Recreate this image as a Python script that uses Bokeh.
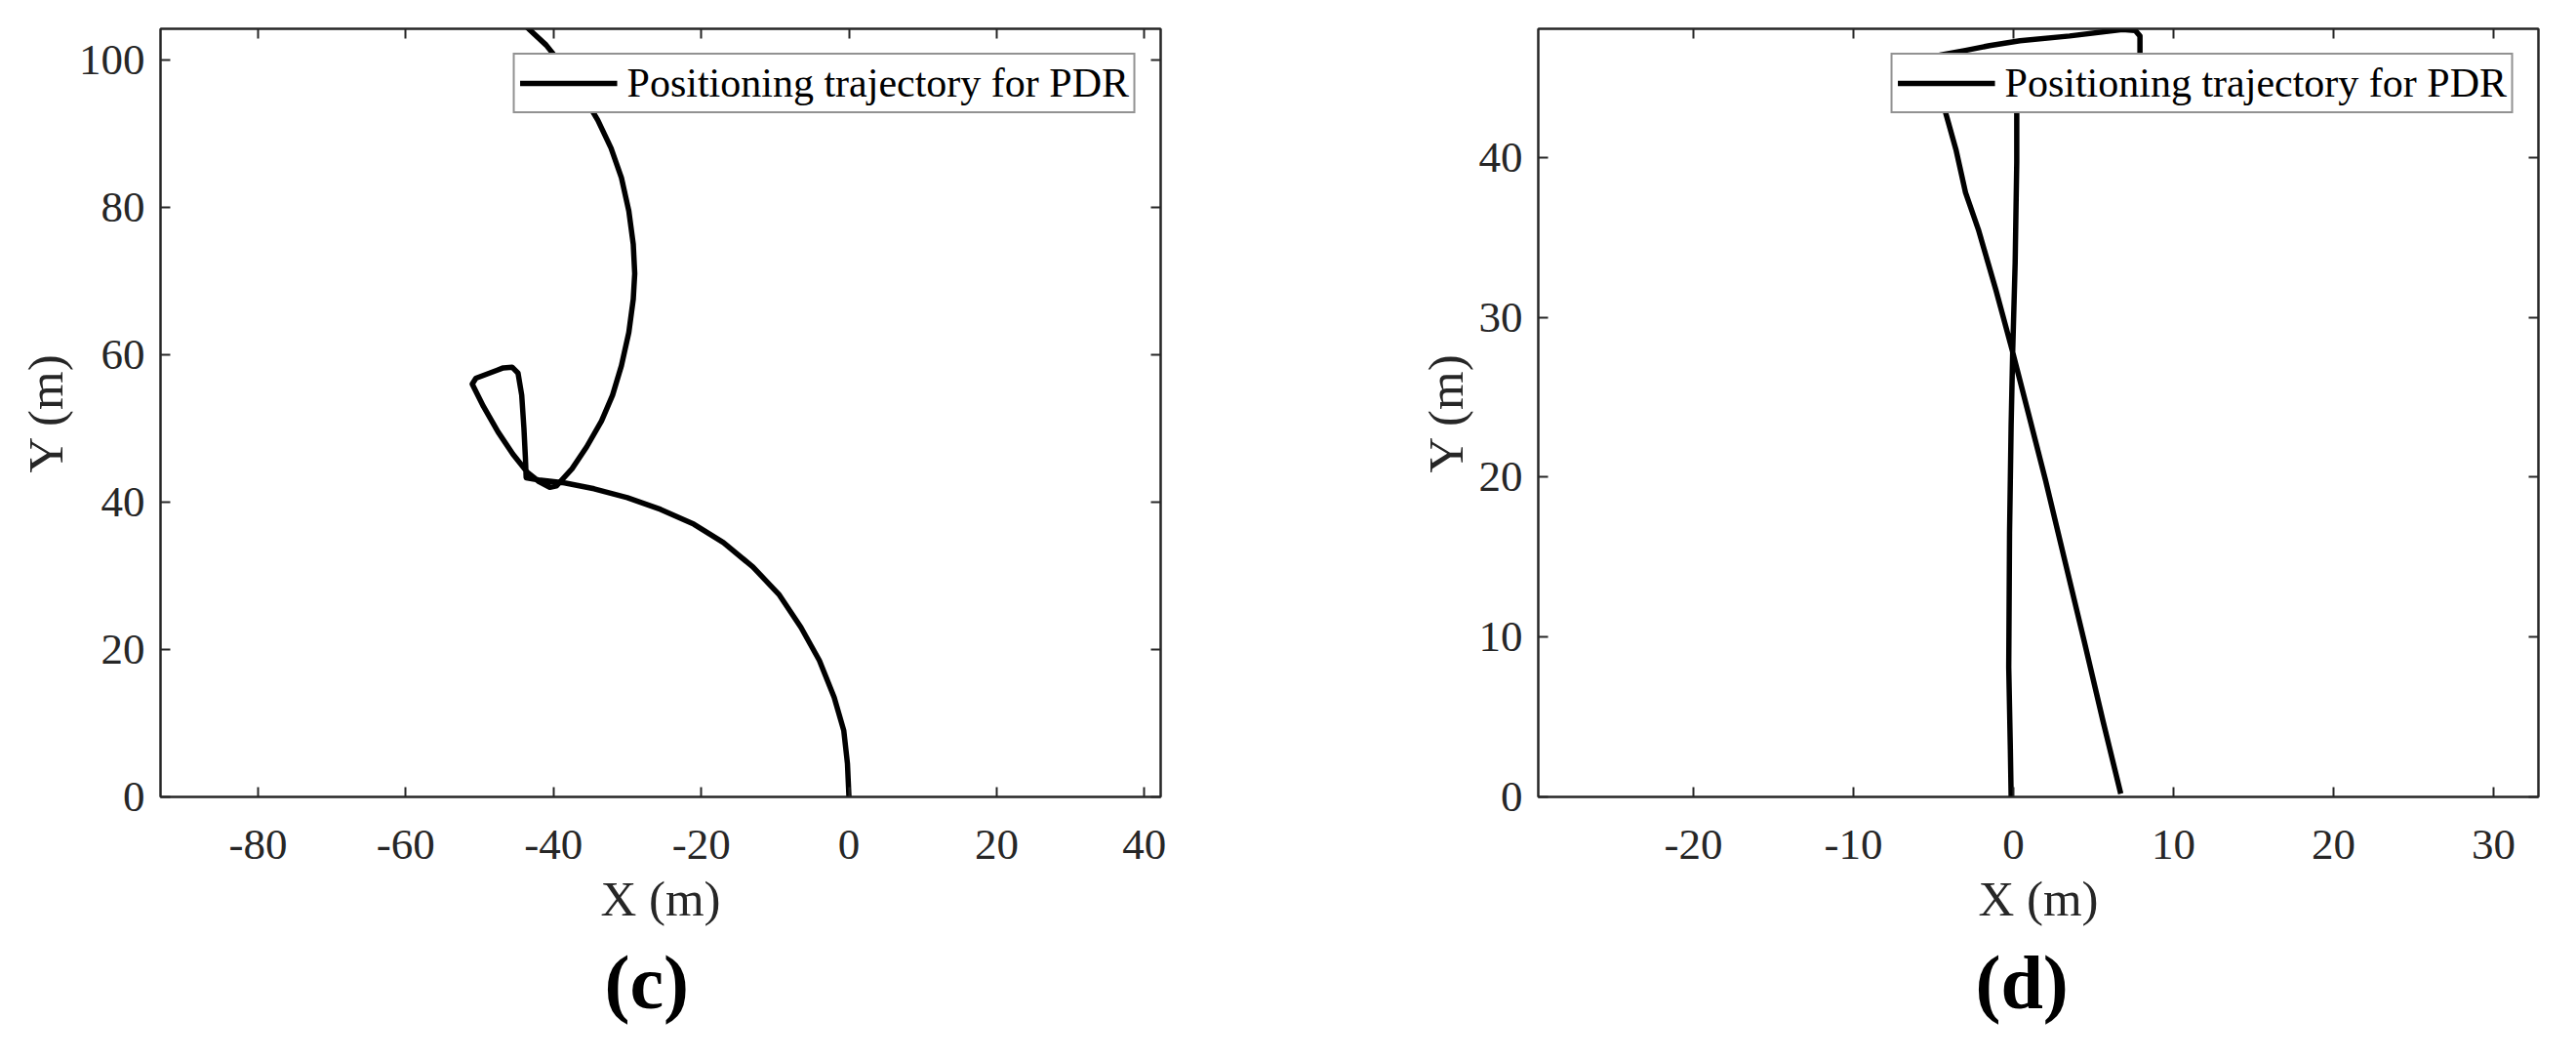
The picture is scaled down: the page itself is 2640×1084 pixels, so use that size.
from bokeh.plotting import figure
from bokeh.layouts import row
from bokeh.models import Range1d, FixedTicker, LinearAxis, Title
from bokeh.embed import file_html
from bokeh.resources import INLINE

# ---------------- data ----------------
legend_text = "Positioning trajectory for PDR"

# panel (c)
x_c = [0.0, -0.2, -0.7, -2.0, -4.0, -6.5, -9.5, -13.0, -17.0, -21.0, -25.5, -30.0,
       -34.5, -38.5, -42.0, -43.7,
       -43.8, -44.0, -44.3, -44.8, -45.6, -46.8, -50.5, -51.0, -49.5, -47.5,
       -45.5, -43.5, -42.0, -40.5, -39.6,
       -37.5, -35.5, -33.5, -32.0, -30.8, -29.8, -29.2, -29.0, -29.2, -29.8,
       -30.8, -32.2, -34.0, -36.2, -38.6, -41.0, -43.8]
y_c = [0.0, 4.5, 9.0, 13.5, 18.5, 23.0, 27.5, 31.2, 34.5, 37.0, 39.0, 40.6,
       41.8, 42.6, 43.0, 43.3,
       46.0, 50.0, 54.5, 57.5, 58.3, 58.2, 56.8, 56.0, 53.0, 49.5,
       46.5, 44.0, 42.8, 42.0, 42.2,
       44.5, 47.5, 51.0, 54.5, 58.5, 63.0, 67.5, 71.0, 75.0, 79.5,
       84.0, 88.0, 91.8, 95.5, 99.0, 102.0, 104.6]
xticks_c = [-80, -60, -40, -20, 0, 20, 40]
yticks_c = [0, 20, 40, 60, 80, 100]
xlim_c = (-93.2, 42.2)
ylim_c = (0.0, 104.2)

# panel (d)
x_d = [6.7, 5.6, 4.4, 3.2, 2.0, 0.9, -0.1, -1.1, -2.2, -3.0, -3.6, -4.3,
       -4.5, -4.6, -3.0, -1.5, 0.4, 3.5, 6.8, 7.6, 7.9, 7.9, 7.6, 4.0, 0.5,
       0.2, 0.2, 0.1, -0.05, -0.15, -0.25, -0.3, -0.2, -0.15]
y_d = [0.2, 4.7, 9.8, 14.8, 19.8, 24.1, 28.0, 31.7, 35.5, 37.8, 40.5, 43.0,
       44.5, 46.4, 46.7, 47.0, 47.3, 47.6, 48.0, 47.95, 47.6, 46.3, 45.2, 44.8, 44.3,
       43.0, 39.7, 33.4, 28.0, 23.3, 16.5, 8.1, 3.0, 0.0]
xticks_d = [-20, -10, 0, 10, 20, 30]
yticks_d = [0, 10, 20, 30, 40]
xlim_d = (-29.7, 32.8)
ylim_d = (0.0, 48.05)

# ---------------- style ----------------
FONT = "Liberation Serif"
AX = "#262626"
FW, FH = 1025, 787
FIG_H = 1068
TOP = 29


def make_panel(xs, ys, xlim, ylim, xticks, yticks, tag, border_left, border_right, tag_dx):
    p = figure(frame_width=FW, frame_height=FH,
               x_range=Range1d(*xlim), y_range=Range1d(*ylim),
               output_backend="svg", toolbar_location=None,
               min_border_left=border_left, min_border_right=border_right,
               min_border_top=TOP, min_border_bottom=FIG_H - FH - TOP,
               background_fill_color="white", border_fill_color="white")
    p.xgrid.visible = False
    p.ygrid.visible = False
    p.outline_line_color = AX
    p.outline_line_width = 2

    p.line(xs, ys, line_color="black", line_width=5.5, line_join="round",
           legend_label=legend_text)

    for ax, ticks in ((p.xaxis[0], xticks), (p.yaxis[0], yticks)):
        ax.ticker = FixedTicker(ticks=ticks)
        ax.major_label_overrides = {t: str(t) for t in ticks}
        ax.major_tick_in = 10
        ax.major_tick_out = 0
        ax.minor_tick_line_color = None
        ax.axis_line_color = AX
        ax.axis_line_width = 2
        ax.major_tick_line_color = AX
        ax.major_tick_line_width = 2
        ax.major_label_text_font = FONT
        ax.major_label_text_font_size = "45px"
        ax.major_label_text_color = AX
        ax.axis_label_text_font = FONT
        ax.axis_label_text_font_size = "51px"
        ax.axis_label_text_font_style = "normal"
        ax.axis_label_text_color = AX
    p.xaxis[0].axis_label = "X (m)"
    p.yaxis[0].axis_label = "Y (m)"
    p.xaxis[0].major_label_standoff = 34
    p.xaxis[0].axis_label_standoff = 10
    p.yaxis[0].major_label_standoff = 16
    p.yaxis[0].axis_label_standoff = 3

    for loc, ticks in (("above", xticks), ("right", yticks)):
        a = LinearAxis(ticker=FixedTicker(ticks=ticks))
        a.major_tick_in = 10
        a.major_tick_out = 0
        a.minor_tick_line_color = None
        a.axis_line_color = AX
        a.axis_line_width = 2
        a.major_tick_line_color = AX
        a.major_tick_line_width = 2
        a.major_label_text_color = None
        a.major_label_text_font_size = "0px"
        a.major_label_standoff = 0
        p.add_layout(a, loc)

    lg = p.legend[0]
    lg.location = "top_right"
    lg.margin = 25
    lg.padding = 5
    lg.spacing = 0
    lg.glyph_width = 100
    lg.glyph_height = 40
    lg.label_standoff = 10
    lg.label_text_font = FONT
    lg.label_text_font_size = "42px"
    lg.label_text_color = "black"
    lg.border_line_color = AX
    lg.border_line_width = 2
    lg.background_fill_color = "white"
    lg.background_fill_alpha = 1.0

    # panel tag below the axis label
    t = Title(text=tag, align="left", offset=tag_dx, standoff=23,
              vertical_align="top", text_font=FONT, text_font_size="78px",
              text_font_style="bold", text_color="black")
    p.add_layout(t, "below")
    return p


p1 = make_panel(x_c, y_c, xlim_c, ylim_c, xticks_c, yticks_c, "(c)", 164, 123, 455)
p2 = make_panel(x_d, y_d, xlim_d, ylim_d, xticks_d, yticks_d, "(d)", 264, 23, 448)

layout = row(p1, p2)
open("out.html", "w").write(file_html(layout, INLINE))
